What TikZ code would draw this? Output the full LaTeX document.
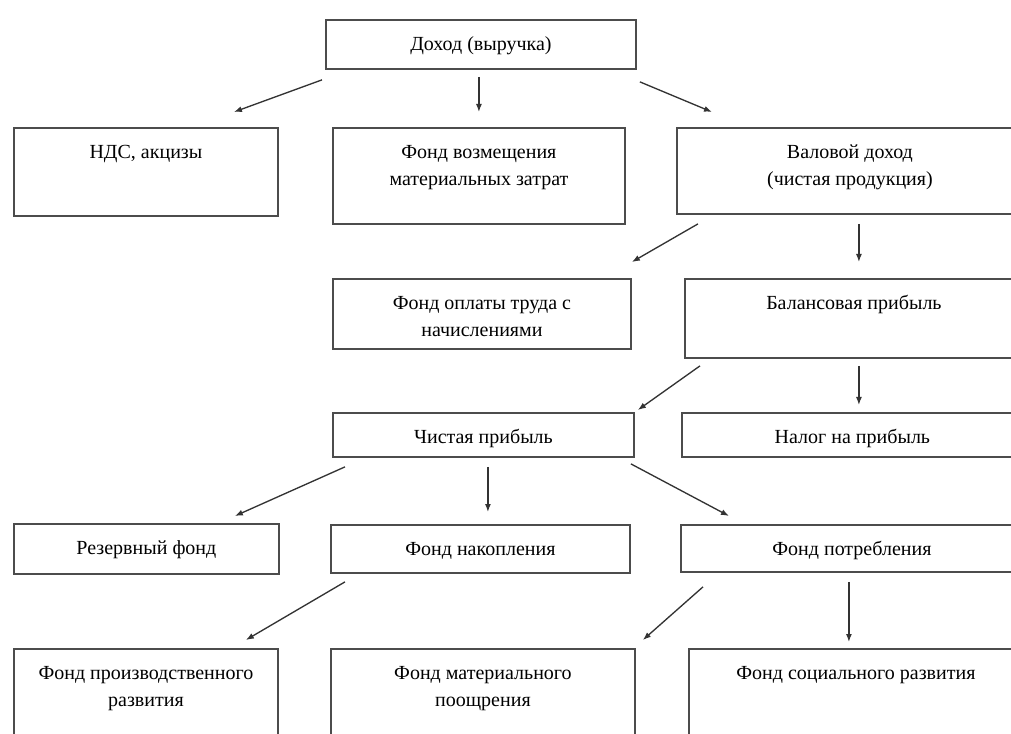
\documentclass[tikz,border=0pt]{standalone}
\usepackage{fontspec}
\setmainfont{Liberation Serif}
\usetikzlibrary{calc,arrows.meta}
\newlength\pxu
\setlength\pxu{0.75pt}
% box of w x h (pixels) with the text near its top
\newcommand\bx[3]{\parbox[t][#2\pxu][t]{#1\pxu}{\centering\vspace*{9pt}\strut#3\par}}

\begin{document}
\begin{tikzpicture}[x=0.75pt, y=-0.75pt, >={Latex[length=6pt,width=4.5pt]},
  blk/.style={draw=black!70, line width=1.4pt, inner sep=0pt, anchor=north west,
    font=\fontsize{15}{20}\selectfont},
  arr/.style={->, draw=black!80, line width=1pt}]
  \useasboundingbox (0,0) rectangle (1011,734);
  \clip (0,0) rectangle (1011,734);
  % boxes
  \node[blk] (dohod)  at (325,19)  {\bx{310}{49}{Доход (выручка)}};
  \node[blk] (nds)    at (13,127)  {\bx{264}{88}{НДС, акцизы}};
  \node[blk] (vozm)   at (332,127) {\bx{292}{96}{Фонд возмещения\\материальных затрат}};
  \node[blk] (valov)  at (676,127) {\bx{346}{86}{Валовой доход\\(чистая продукция)}};
  \node[blk] (oplata) at (332,278) {\bx{298}{70}{Фонд оплаты труда с\\начислениями}};
  \node[blk] (balans) at (684,278) {\bx{338}{79}{Балансовая прибыль}};
  \node[blk] (chist)  at (332,412) {\bx{301}{44}{Чистая прибыль}};
  \node[blk] (nalog)  at (681,412) {\bx{341}{44}{Налог на прибыль}};
  \node[blk] (rezerv) at (13,523)  {\bx{265}{50}{Резервный фонд}};
  \node[blk] (nakopl) at (330,524) {\bx{299}{48}{Фонд накопления}};
  \node[blk] (potreb) at (680,524) {\bx{342}{47}{Фонд потребления}};
  \node[blk] (proizv) at (13,648)  {\bx{264}{110}{Фонд производственного\\развития}};
  \node[blk] (mater)  at (330,648) {\bx{304}{110}{Фонд материального\\поощрения}};
  \node[blk] (social) at (688,648) {\bx{334}{110}{Фонд социального развития}};
  % arrows
  \draw[arr] ($(dohod.south west)+(-3,10)$) -- ($(nds.north)+(88,-15)$);
  \draw[arr] ($(dohod.south)+(-2,7)$) -- ($(vozm.north)+(0,-15)$);
  \draw[arr] ($(dohod.south east)+(3,12)$) -- ($(valov.north west)+(36,-15)$);
  \draw[arr] ($(valov.south west)+(22,9)$) -- ($(oplata.north east)+(0,-16)$);
  \draw[arr] ($(valov.south)+(9,9)$) -- ($(balans.north)+(5,-16)$);
  \draw[arr] ($(balans.south west)+(16,7)$) -- ($(chist.north east)+(3,-2)$);
  \draw[arr] ($(balans.south)+(5,7)$) -- ($(nalog.north)+(6.5,-7)$);
  \draw[arr] ($(chist.south west)+(13,9)$) -- ($(rezerv.north east)+(-45,-7)$);
  \draw[arr] ($(chist.south)+(4.5,9)$) -- ($(nakopl.north)+(7.5,-12)$);
  \draw[arr] ($(chist.south east)+(-4,6)$) -- ($(potreb.north west)+(49,-8)$);
  \draw[arr] ($(nakopl.south west)+(15,8)$) -- ($(proizv.north east)+(-33,-8)$);
  \draw[arr] ($(potreb.south west)+(23,14)$) -- ($(mater.north east)+(7,-8)$);
  \draw[arr] ($(potreb.south)+(-3,9)$) -- ($(social.north)+(-7,-6)$);
\end{tikzpicture}
\end{document}
